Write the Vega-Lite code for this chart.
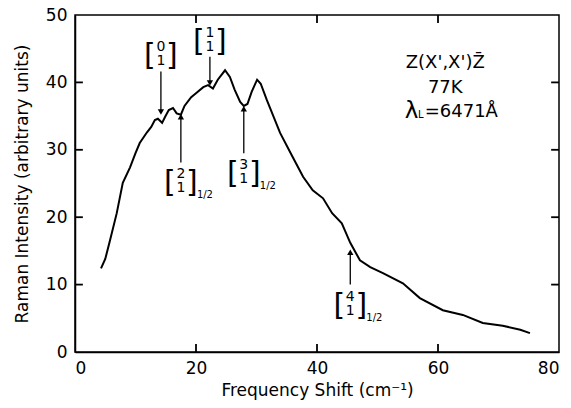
{
  "$schema": "https://vega.github.io/schema/vega-lite/v6.json",
  "width": 484,
  "height": 337,
  "autosize": {"type": "none"},
  "padding": {"left": 75, "top": 15, "right": 12, "bottom": 56},
  "background": "white",
  "config": {
    "view": {"stroke": "black", "strokeWidth": 1.5},
    "font": "DejaVu Sans",
    "axis": {
      "grid": false,
      "domainColor": "black",
      "domainWidth": 1.5,
      "ticks": false,
      "labelColor": "black",
      "titleColor": "black",
      "labelFont": "DejaVu Sans",
      "titleFont": "DejaVu Sans",
      "labelFontSize": 17,
      "titleFontSize": 17,
      "titleFontWeight": "normal"
    }
  },
  "datasets": {
    "curve": [
      {"f": 4.3, "i": 12.4}, {"f": 5.0, "i": 13.8}, {"f": 5.8, "i": 16.6}, {"f": 6.9, "i": 20.6},
      {"f": 7.9, "i": 25.1}, {"f": 9.1, "i": 27.4}, {"f": 10.0, "i": 29.5}, {"f": 10.7, "i": 31.0},
      {"f": 11.9, "i": 32.6}, {"f": 12.6, "i": 33.4}, {"f": 13.2, "i": 34.4}, {"f": 13.7, "i": 34.6},
      {"f": 14.4, "i": 34.0}, {"f": 14.9, "i": 34.9}, {"f": 15.5, "i": 35.9}, {"f": 16.2, "i": 36.2},
      {"f": 16.8, "i": 35.4}, {"f": 17.5, "i": 35.2}, {"f": 18.1, "i": 36.5}, {"f": 19.2, "i": 37.8},
      {"f": 20.0, "i": 38.4}, {"f": 21.2, "i": 39.3}, {"f": 22.0, "i": 39.6}, {"f": 22.8, "i": 39.1},
      {"f": 23.6, "i": 40.4}, {"f": 24.8, "i": 41.8}, {"f": 25.6, "i": 40.8}, {"f": 26.4, "i": 38.9},
      {"f": 27.3, "i": 37.1}, {"f": 27.9, "i": 36.5}, {"f": 28.5, "i": 36.8}, {"f": 29.2, "i": 38.6},
      {"f": 30.1, "i": 40.4}, {"f": 30.7, "i": 39.8}, {"f": 31.7, "i": 37.4}, {"f": 33.9, "i": 32.5},
      {"f": 36.0, "i": 28.9}, {"f": 37.7, "i": 26.0}, {"f": 39.3, "i": 24.0}, {"f": 41.0, "i": 22.8},
      {"f": 42.5, "i": 20.6}, {"f": 44.1, "i": 19.1}, {"f": 45.5, "i": 16.2}, {"f": 47.1, "i": 13.6},
      {"f": 48.8, "i": 12.6}, {"f": 50.9, "i": 11.7}, {"f": 54.2, "i": 10.2}, {"f": 57.0, "i": 8.0},
      {"f": 60.8, "i": 6.2}, {"f": 64.1, "i": 5.5}, {"f": 67.4, "i": 4.3}, {"f": 70.7, "i": 3.9},
      {"f": 73.6, "i": 3.3}, {"f": 75.2, "i": 2.8}
    ],
    "labels": [
      {"top": "0", "bot": "1", "f": 14.2, "i": 44.2, "sub": ""},
      {"top": "1", "bot": "1", "f": 22.3, "i": 46.3, "sub": ""},
      {"top": "2", "bot": "1", "f": 17.5, "i": 25.4, "sub": "1/2"},
      {"top": "3", "bot": "1", "f": 27.9, "i": 26.7, "sub": "1/2"},
      {"top": "4", "bot": "1", "f": 45.5, "i": 7.1, "sub": "1/2"}
    ],
    "arrows": [
      {"f": 14.2, "i": 41.6, "tip": 35.6, "dir": "down"},
      {"f": 22.3, "i": 43.8, "tip": 39.9, "dir": "down"},
      {"f": 17.5, "i": 28.1, "tip": 34.9, "dir": "up"},
      {"f": 27.9, "i": 29.5, "tip": 36.1, "dir": "up"},
      {"f": 45.5, "i": 10.0, "tip": 14.8, "dir": "up"}
    ],
    "xticks": [
      {"f": 20, "a": 0, "b": 1.2}, {"f": 40, "a": 0, "b": 1.2}, {"f": 60, "a": 0, "b": 1.2},
      {"f": 20, "a": 50, "b": 48.8}, {"f": 40, "a": 50, "b": 48.8}, {"f": 60, "a": 50, "b": 48.8}
    ],
    "yticks": [
      {"i": 10, "a": 0, "b": 1.3}, {"i": 20, "a": 0, "b": 1.3}, {"i": 30, "a": 0, "b": 1.3}, {"i": 40, "a": 0, "b": 1.3},
      {"i": 10, "a": 80, "b": 78.7}, {"i": 20, "a": 80, "b": 78.7}, {"i": 30, "a": 80, "b": 78.7}, {"i": 40, "a": 80, "b": 78.7}
    ]
  },
  "layer": [
    {
      "data": {"name": "curve"},
      "mark": {"type": "line", "color": "black", "strokeWidth": 2, "interpolate": "linear"},
      "encoding": {
        "x": {"field": "f", "type": "quantitative", "scale": {"domain": [0, 80], "nice": false},
          "axis": {"orient": "bottom", "values": [0, 20, 40, 60, 80], "labelPadding": 8, "title": "Frequency Shift  (cm⁻¹)", "titlePadding": 6}},
        "y": {"field": "i", "type": "quantitative", "scale": {"domain": [0, 50], "nice": false},
          "axis": {"orient": "left", "values": [0, 10, 20, 30, 40, 50], "labelPadding": 8, "title": "Raman Intensity  (arbitrary units)", "titlePadding": 14}}
      }
    },
    {
      "data": {"name": "xticks"},
      "mark": {"type": "rule", "color": "black", "strokeWidth": 1.8},
      "encoding": {
        "x": {"field": "f", "type": "quantitative"},
        "y": {"field": "a", "type": "quantitative"},
        "y2": {"field": "b"}
      }
    },
    {
      "data": {"name": "yticks"},
      "mark": {"type": "rule", "color": "black", "strokeWidth": 1.8},
      "encoding": {
        "y": {"field": "i", "type": "quantitative"},
        "x": {"field": "a", "type": "quantitative"},
        "x2": {"field": "b"}
      }
    },
    {
      "data": {"name": "arrows"},
      "mark": {"type": "rule", "color": "black", "strokeWidth": 1.3},
      "encoding": {
        "x": {"field": "f", "type": "quantitative"},
        "y": {"field": "i", "type": "quantitative"},
        "y2": {"field": "tip"}
      }
    },
    {
      "data": {"name": "arrows"},
      "mark": {"type": "point", "filled": true, "color": "black", "size": 40, "opacity": 1},
      "encoding": {
        "x": {"field": "f", "type": "quantitative"},
        "y": {"field": "tip", "type": "quantitative"},
        "shape": {"field": "dir", "type": "nominal", "scale": {"domain": ["down", "up"], "range": ["triangle-down", "triangle-up"]}, "legend": null}
      }
    },
    {
      "data": {"name": "labels"},
      "mark": {"type": "text", "fontSize": 14, "dy": -7, "baseline": "middle", "color": "black"},
      "encoding": {
        "x": {"field": "f", "type": "quantitative"},
        "y": {"field": "i", "type": "quantitative"},
        "text": {"field": "top"}
      }
    },
    {
      "data": {"name": "labels"},
      "mark": {"type": "text", "fontSize": 14, "dy": 7, "baseline": "middle", "color": "black"},
      "encoding": {
        "x": {"field": "f", "type": "quantitative"},
        "y": {"field": "i", "type": "quantitative"},
        "text": {"field": "bot"}
      }
    },
    {
      "data": {"name": "labels"},
      "mark": {"type": "text", "fontSize": 30, "dx": -11, "dy": 2, "baseline": "middle", "color": "black"},
      "encoding": {
        "x": {"field": "f", "type": "quantitative"},
        "y": {"field": "i", "type": "quantitative"},
        "text": {"value": "["}
      }
    },
    {
      "data": {"name": "labels"},
      "mark": {"type": "text", "fontSize": 30, "dx": 11, "dy": 2, "baseline": "middle", "color": "black"},
      "encoding": {
        "x": {"field": "f", "type": "quantitative"},
        "y": {"field": "i", "type": "quantitative"},
        "text": {"value": "]"}
      }
    },
    {
      "data": {"name": "labels"},
      "mark": {"type": "text", "fontSize": 10, "dx": 16, "dy": 14, "align": "left", "baseline": "middle", "color": "black"},
      "encoding": {
        "x": {"field": "f", "type": "quantitative"},
        "y": {"field": "i", "type": "quantitative"},
        "text": {"field": "sub"}
      }
    },
    {
      "data": {"values": [
        {"t": "Z(X',X')Z̄", "f": 61.2, "i": 42.1},
        {"t": "77K", "f": 61.2, "i": 38.4}
      ]},
      "mark": {"type": "text", "fontSize": 18, "align": "center", "baseline": "alphabetic", "color": "black"},
      "encoding": {
        "x": {"field": "f", "type": "quantitative"},
        "y": {"field": "i", "type": "quantitative"},
        "text": {"field": "t"}
      }
    },
    {
      "data": {"values": [{"t": "λ", "f": 54.5, "i": 34.7}]},
      "mark": {"type": "text", "fontSize": 23, "align": "left", "baseline": "alphabetic", "color": "black"},
      "encoding": {
        "x": {"field": "f", "type": "quantitative"},
        "y": {"field": "i", "type": "quantitative"},
        "text": {"field": "t"}
      }
    },
    {
      "data": {"values": [{"t": "L", "f": 56.7, "i": 34.7}]},
      "mark": {"type": "text", "fontSize": 10, "align": "left", "baseline": "alphabetic", "color": "black"},
      "encoding": {
        "x": {"field": "f", "type": "quantitative"},
        "y": {"field": "i", "type": "quantitative"},
        "text": {"field": "t"}
      }
    },
    {
      "data": {"values": [{"t": "=6471Å", "f": 57.8, "i": 34.9}]},
      "mark": {"type": "text", "fontSize": 18, "align": "left", "baseline": "alphabetic", "color": "black"},
      "encoding": {
        "x": {"field": "f", "type": "quantitative"},
        "y": {"field": "i", "type": "quantitative"},
        "text": {"field": "t"}
      }
    }
  ]
}
